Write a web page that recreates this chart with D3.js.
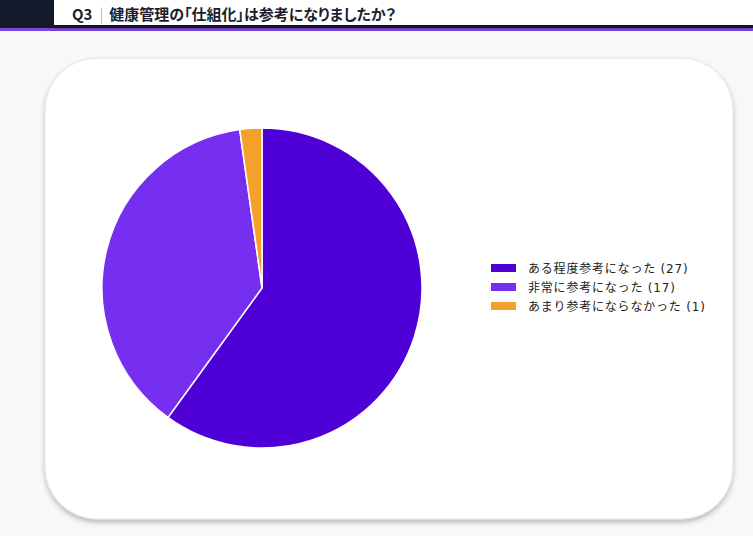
<!DOCTYPE html>
<html lang="ja">
<head>
<meta charset="UTF-8">
<title>Q3 健康管理の「仕組化」は参考になりましたか？</title>
<script src="https://d3js.org/d3.v7.min.js"></script>
<style>
  body { margin: 0; background: #f7f8fa; font-family: "Noto Sans CJK JP", "Noto Sans", sans-serif; }
  svg { display: block; }
  .head { font-feature-settings: "palt"; }
</style>
</head>
<body>
<svg width="753" height="536"></svg>
<script>
const categories = ['ある程度参考になった', '非常に参考になった', 'あまり参考にならなかった'];
const counts = [27, 17, 1];
const colors = ['#4f00d6', '#762ef0', '#f3a12b'];
const title = 'Q3';
const subtitle = '健康管理の「仕組化」は参考になりましたか？';

const svg = d3.select('svg');
const W = 753, H = 536;

// header
const defs = svg.append('defs');
const sh = defs.append('filter').attr('id', 'sh').attr('x', '-10%').attr('y', '-20%').attr('width', '120%').attr('height', '160%');
sh.append('feDropShadow').attr('dx', 0).attr('dy', 2).attr('stdDeviation', 2).attr('flood-color', '#000').attr('flood-opacity', 0.35);
const cs = defs.append('filter').attr('id', 'cs').attr('x', '-5%').attr('y', '-5%').attr('width', '110%').attr('height', '115%');
cs.append('feDropShadow').attr('dx', 0).attr('dy', 3).attr('stdDeviation', 2.5).attr('flood-color', '#000').attr('flood-opacity', 0.25);

svg.append('rect').attr('width', W).attr('height', H).attr('fill', '#f7f8fa');
svg.append('rect').attr('x', 0).attr('y', 0).attr('width', W).attr('height', 28).attr('fill', '#151a2d');
svg.append('rect').attr('x', 0).attr('y', 28).attr('width', W).attr('height', 3).attr('fill', '#7a45dc');
svg.append('rect').attr('x', 54).attr('y', 0).attr('width', W - 54).attr('height', 25)
  .attr('fill', '#fff').attr('filter', 'url(#sh)');

const head = svg.append('text').attr('class', 'head').attr('x', 72).attr('y', 20)
  .attr('font-size', 15).attr('font-weight', 700).attr('fill', '#1b1f2c');
head.append('tspan').text(title);
head.append('tspan').attr('dx', 7).attr('font-weight', 300).attr('fill', '#9aa0aa').text('|');
head.append('tspan').attr('dx', 6).text(subtitle);

// card
svg.append('rect').attr('x', 45).attr('y', 58).attr('width', 688).attr('height', 461)
  .attr('rx', 52).attr('fill', '#fff').attr('stroke', '#e1e4ec').attr('stroke-width', 1)
  .attr('filter', 'url(#cs)');

// pie
const data = categories.map((c, i) => ({ label: c, value: counts[i], color: colors[i] }));
const pie = d3.pie().value(d => d.value).sort(null);
const arc = d3.arc().innerRadius(0).outerRadius(160);
const g = svg.append('g').attr('transform', 'translate(262,288)');
g.selectAll('path').data(pie(data)).enter().append('path')
  .attr('d', arc).attr('fill', d => d.data.color)
  .attr('stroke', '#fff').attr('stroke-width', 1.5);

// legend
const lg = svg.append('g').attr('transform', 'translate(491,264)');
const row = lg.selectAll('g').data(data).enter().append('g')
  .attr('transform', (d, i) => `translate(0,${i * 19})`);
row.append('rect').attr('width', 25).attr('height', 8).attr('fill', d => d.color);
row.append('text').attr('x', 37).attr('y', 8.5)
  .attr('font-size', 12).attr('letter-spacing', 0.8).attr('fill', '#222')
  .attr('font-family', '"DejaVu Sans", "Noto Sans CJK JP", sans-serif')
  .text(d => `${d.label} (${d.value})`);
</script>
</body>
</html>
